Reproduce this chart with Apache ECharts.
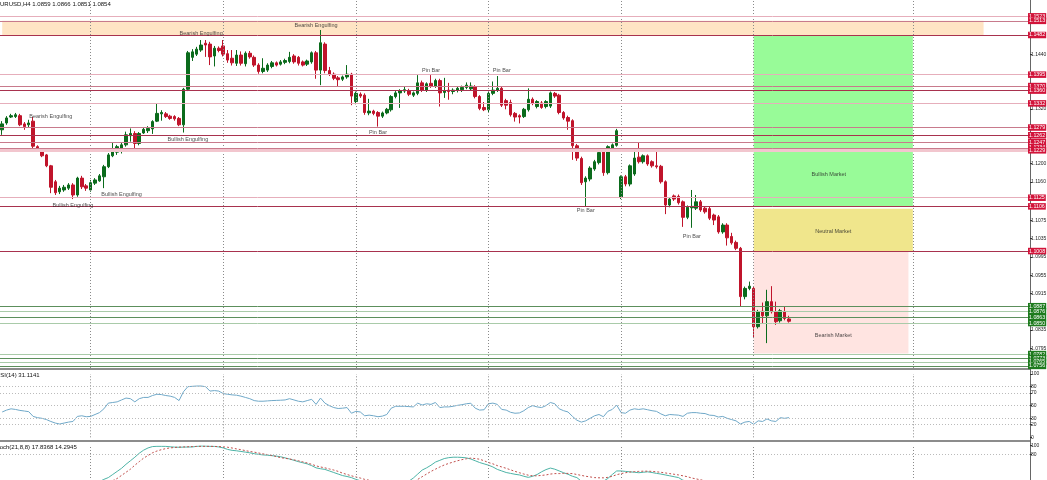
<!DOCTYPE html>
<html><head><meta charset="utf-8">
<script src="https://cdn.jsdelivr.net/npm/echarts@6/dist/echarts.min.js"></script>
<style>html,body{margin:0;padding:0;background:#fff;overflow:hidden}#c{width:1047px;height:480px}</style>
</head><body><div id="c"></div>
<script>
const symbolName = 'EURUSD,H4';
// [open, close, low, high]
const candles = [
[1.1274,1.1287,1.1263,1.1293],[1.1289,1.1300,1.1285,1.1304],[1.1302,1.1305,1.1300,1.1309],[1.1303,1.1307,1.1300,1.1311],
[1.1305,1.1285,1.1282,1.1309],[1.1287,1.1281,1.1274,1.1291],[1.1285,1.1289,1.1280,1.1296],[1.1293,1.1238,1.1234,1.1302],
[1.1237,1.1231,1.1228,1.1240],[1.1230,1.1217,1.1214,1.1234],[1.1219,1.1195,1.1192,1.1221],[1.1195,1.1148,1.1135,1.1197],
[1.1160,1.1136,1.1131,1.1164],[1.1138,1.1146,1.1133,1.1151],[1.1142,1.1148,1.1138,1.1153],[1.1146,1.1153,1.1142,1.1157],
[1.1153,1.1131,1.1122,1.1157],[1.1131,1.1168,1.1127,1.1171],[1.1168,1.1149,1.1144,1.1173],[1.1151,1.1146,1.1140,1.1155],
[1.1142,1.1158,1.1138,1.1164],[1.1157,1.1164,1.1153,1.1168],[1.1162,1.1173,1.1160,1.1177],[1.1171,1.1193,1.1146,1.1197],
[1.1193,1.1219,1.1190,1.1223],[1.1217,1.1231,1.1214,1.1245],[1.1225,1.1237,1.1219,1.1241],[1.1230,1.1241,1.1222,1.1245],
[1.1241,1.1263,1.1237,1.1270],[1.1261,1.1266,1.1248,1.1277],[1.1266,1.1244,1.1233,1.1271],[1.1244,1.1266,1.1240,1.1269],
[1.1267,1.1275,1.1265,1.1280],[1.1272,1.1277,1.1267,1.1282],[1.1276,1.1292,1.1265,1.1295],[1.1293,1.1310,1.1291,1.1331],
[1.1309,1.1312,1.1294,1.1317],[1.1309,1.1303,1.1300,1.1313],[1.1304,1.1299,1.1296,1.1307],[1.1303,1.1298,1.1294,1.1306],
[1.1299,1.1285,1.1282,1.1302],[1.1285,1.1363,1.1268,1.1366],[1.1363,1.1443,1.1359,1.1447],[1.1433,1.1445,1.1425,1.1451],
[1.1440,1.1451,1.1436,1.1456],[1.1449,1.1460,1.1445,1.1471],[1.1464,1.1460,1.1434,1.1471],[1.1462,1.1434,1.1416,1.1467],
[1.1436,1.1453,1.1413,1.1458],[1.1453,1.1448,1.1444,1.1457],[1.1458,1.1440,1.1435,1.1471],[1.1441,1.1427,1.1421,1.1449],
[1.1431,1.1421,1.1415,1.1449],[1.1420,1.1438,1.1414,1.1449],[1.1438,1.1420,1.1415,1.1446],[1.1419,1.1442,1.1413,1.1446],
[1.1442,1.1434,1.1430,1.1447],[1.1433,1.1416,1.1412,1.1437],[1.1416,1.1402,1.1397,1.1420],[1.1402,1.1409,1.1398,1.1431],
[1.1405,1.1416,1.1401,1.1420],[1.1413,1.1421,1.1409,1.1425],[1.1421,1.1416,1.1413,1.1424],[1.1418,1.1423,1.1415,1.1427],
[1.1422,1.1426,1.1418,1.1430],[1.1424,1.1433,1.1420,1.1445],[1.1436,1.1423,1.1419,1.1440],[1.1433,1.1420,1.1415,1.1436],
[1.1423,1.1416,1.1413,1.1426],[1.1418,1.1425,1.1414,1.1428],[1.1423,1.1443,1.1419,1.1446],[1.1443,1.1405,1.1386,1.1447],
[1.1405,1.1465,1.1372,1.1493],[1.1462,1.1404,1.1398,1.1466],[1.1404,1.1396,1.1392,1.1412],[1.1396,1.1387,1.1383,1.1400],
[1.1388,1.1384,1.1370,1.1392],[1.1385,1.1390,1.1381,1.1393],[1.1390,1.1396,1.1386,1.1416],[1.1396,1.1348,1.1328,1.1399],
[1.1336,1.1354,1.1330,1.1358],[1.1352,1.1348,1.1344,1.1356],[1.1350,1.1312,1.1307,1.1354],[1.1311,1.1315,1.1306,1.1342],
[1.1315,1.1310,1.1306,1.1318],[1.1312,1.1304,1.1281,1.1315],[1.1304,1.1311,1.1300,1.1314],[1.1311,1.1319,1.1308,1.1322],
[1.1318,1.1347,1.1314,1.1350],[1.1347,1.1355,1.1343,1.1359],[1.1355,1.1360,1.1322,1.1363],[1.1359,1.1362,1.1355,1.1368],
[1.1360,1.1352,1.1348,1.1364],[1.1350,1.1355,1.1346,1.1358],[1.1354,1.1377,1.1350,1.1394],[1.1377,1.1361,1.1357,1.1382],
[1.1361,1.1375,1.1357,1.1378],[1.1376,1.1370,1.1366,1.1394],[1.1370,1.1382,1.1366,1.1386],[1.1382,1.1355,1.1325,1.1386],
[1.1356,1.1359,1.1344,1.1388],[1.1361,1.1358,1.1340,1.1377],[1.1358,1.1361,1.1352,1.1365],[1.1361,1.1365,1.1356,1.1370],
[1.1362,1.1367,1.1357,1.1371],[1.1367,1.1372,1.1363,1.1378],[1.1364,1.1370,1.1360,1.1378],[1.1369,1.1347,1.1343,1.1372],
[1.1347,1.1321,1.1317,1.1350],[1.1323,1.1318,1.1315,1.1335],[1.1318,1.1354,1.1312,1.1357],[1.1354,1.1361,1.1350,1.1380],
[1.1361,1.1365,1.1357,1.1392],[1.1365,1.1328,1.1324,1.1368],[1.1338,1.1328,1.1319,1.1342],[1.1334,1.1307,1.1303,1.1340],
[1.1310,1.1302,1.1292,1.1313],[1.1305,1.1302,1.1288,1.1308],[1.1303,1.1319,1.1300,1.1322],[1.1318,1.1341,1.1314,1.1365],
[1.1341,1.1332,1.1328,1.1345],[1.1325,1.1336,1.1321,1.1339],[1.1333,1.1323,1.1320,1.1337],[1.1325,1.1336,1.1321,1.1339],
[1.1326,1.1355,1.1322,1.1358],[1.1354,1.1348,1.1344,1.1357],[1.1350,1.1312,1.1308,1.1353],[1.1312,1.1300,1.1296,1.1315],
[1.1301,1.1293,1.1274,1.1305],[1.1294,1.1239,1.1208,1.1297],[1.1239,1.1212,1.1206,1.1243],[1.1211,1.1158,1.1153,1.1215],
[1.1160,1.1168,1.1105,1.1172],[1.1166,1.1190,1.1161,1.1194],[1.1188,1.1204,1.1184,1.1208],[1.1202,1.1224,1.1198,1.1228],
[1.1226,1.1180,1.1173,1.1230],[1.1180,1.1237,1.1176,1.1240],[1.1234,1.1241,1.1230,1.1244],[1.1240,1.1272,1.1237,1.1276],
[1.1126,1.1171,1.1122,1.1174],[1.1171,1.1155,1.1150,1.1175],[1.1155,1.1195,1.1150,1.1198],[1.1177,1.1212,1.1173,1.1232],
[1.1214,1.1204,1.1200,1.1246],[1.1204,1.1217,1.1200,1.1220],[1.1217,1.1199,1.1195,1.1220],[1.1204,1.1195,1.1191,1.1207],
[1.1195,1.1193,1.1189,1.1232],[1.1194,1.1160,1.1156,1.1197],[1.1160,1.1109,1.1089,1.1163],[1.1109,1.1122,1.1104,1.1126],
[1.1129,1.1122,1.1118,1.1132],[1.1128,1.1114,1.1110,1.1132],[1.1116,1.1082,1.1061,1.1119],[1.1082,1.1104,1.1078,1.1108],
[1.1103,1.1106,1.1059,1.1142],[1.1102,1.1116,1.1098,1.1131],[1.1116,1.1098,1.1094,1.1120],[1.1102,1.1094,1.1090,1.1106],
[1.1101,1.1080,1.1076,1.1105],[1.1087,1.1076,1.1065,1.1090],[1.1083,1.1050,1.1046,1.1087],[1.1050,1.1065,1.1046,1.1069],
[1.1065,1.1037,1.1020,1.1069],[1.1040,1.1026,1.1022,1.1048],[1.1027,1.1014,1.1010,1.1031],[1.1014,1.0908,1.0886,1.1017],
[1.0908,1.0926,1.0902,1.0930],[1.0926,1.0931,1.0922,1.0941],[1.0926,1.0842,1.0817,1.0929],[1.0842,1.0875,1.0838,1.0879],
[1.0876,1.0866,1.0850,1.0895],[1.0866,1.0897,1.0806,1.0923],[1.0897,1.0875,1.0871,1.0931],[1.0875,1.0853,1.0846,1.0897],
[1.0855,1.0877,1.0851,1.0881],[1.0875,1.0860,1.0856,1.0886],[1.0859,1.0854,1.0851,1.0866]
];
const rsi = [40,43,45,44,42.5,41.5,40.5,33,31,30,28,25,22.5,21,22.5,24,25,33,34,32.5,
33,36,39,45,54,55,56,59,62,61,56,61,63,63,66,68,67.5,66,65,63,
58,72,80,80.5,81,81,80,73,73.8,73,69,68,67,66.5,65,63,61,58,57,57,
57.5,58,58.3,58.6,59,61,59,57,56,58,60,52,62,54,50,47,45.5,46,47,38,
41,40,34,35,34,32.5,33.5,36,46,49,49,49,48.5,48,54,51,53,52,55,47,
48,48,49,50.5,51.5,53,53.8,46,43,43.5,53,54,52,44,43,39.5,38,38.5,42,47,
50,48,47,50,55,53,45,42,40,33,27,24,26,30,34,36,32.5,41,44,51,
39,38,43,45,44,45,43.5,42,41,37,34,36,35.5,35,33,38,39,39,38,37.5,
35,34.5,32,33,30,28,26,21,24,25,20.5,26,25,29,26,25,31,30,31.1141];
const stochMain = [18,20,21,21,19,17,15,12,10,8,6,5,4,4,5,6,6,8,9,10,12,15,19,24,
28,35,42,49,58,66,74,83,90,95,98,98.6,98.6,98.5,97.5,96.8,96.5,96.8,97,97.2,98.5,99.3,99,98.6,98.4,97.2,
95,91.6,89.5,88.5,87,85.5,84,82,80.5,79.2,78.5,77.5,76.5,75,72.5,70,67,64,61.5,59,55,50,48,46.5,43,39.5,36,32.5,30.5,28,
24,21,17,15,13,11,10,10,12,14,16,18,20,27,36,45,50,56,63,67,71,73,74,74,73.5,72.5,70,66,62,59,
56,52,46.5,43,39.5,37.5,35.5,34,31,28.5,31,35,41,46,49.5,47,43,39,35.5,31,28,20,15,14,15,18,20,26,35,43,
43,42,41,40,39,40,41,39.5,37.5,36,34,32,30,28,22,20,19,18,16,14,12,10,7,6,5,4,3,2,3,4,
3,6,8,12,12,11,15,16,17.8368];
const stochSignal = [20,20,21,21,21,20,19,17,15,13,11,9,7,6,5,5,5,6,7,8,9,10,12,14,17,21,
26,33,40,47,56,64,72,78,84,88,91,93.5,95,96,96.8,97.2,97.6,98,98.4,98.6,98.6,98.6,98.4,98,
97.4,96.5,94.8,92.8,91,89,87,85.5,83.5,81.5,80,78,75.5,73,71.5,70,68,66,63.5,61,58,54.5,52,50,47.5,45,42,38,35,32,
29.5,27,24,22,20,18.5,17,16,15,14.5,14.5,15,16,18,24,30,36,42,47,52,56.5,60,63,66,68.5,70.5,72,71,69.5,66,
62,59,55,52,49,45.5,42,39,36,33.5,32,32,33,34,36,37,37,37.5,37.5,37,35,33,31,29.5,28,27.5,27.5,28.5,31,34.5,
37,39,40.5,41.5,42,42.5,42.5,42,41,40,38.5,37,35.5,34,32,30,27,25,23,21,19,17,15,13,11,9,7,6,5,5,
5,5,6,7,8,9,11,12.5,14.2945];
// horizontal price levels: [price, kind]
const resistanceLevels = [[1.1523,'light'],[1.1513,'mid'],[1.1482,'dark'],[1.1395,'light'],[1.1370,'mid'],[1.1360,'dark'],
  [1.1332,'light'],[1.1279,'mid'],[1.1262,'dark'],[1.1247,'mid'],[1.1234,'mid'],[1.1229,'band'],[1.1125,'light'],[1.1106,'dark'],[1.1008,'dark']];
const supportLevels = [[1.0887,'dark'],[1.0876,'light'],[1.0863,'dark'],[1.0850,'light'],[1.0782,'light'],[1.0773,'dark'],[1.0765,'light'],[1.0756,'dark']];
// zones: [name, fromBar, toBar, topPrice, bottomPrice]
const zones = [['band',0,222,1.1513,1.1482],['bullish',170,206,1.1480,1.1105],['neutral',170,206,1.1101,1.1008],['bearish',170,205,1.1006,1.0783]];
// text annotations: [text, bar, price]
const annotations = [['Bearish Engulfing',11,1.1304],['Bullish Engulfing',42,1.1252],['Bullish Engulfing',27,1.1133],['Bullish Engulfing',16,1.1107],
  ['Bearish Engulfing',45,1.1486],['Bearish Engulfing',71,1.1503],['Pin Bar',97,1.1405],['Pin Bar',85,1.1268],['Pin Bar',113,1.1404],
  ['Pin Bar',132,1.1097],['Pin Bar',156,1.1040],['Bullish Market',187,1.1175],['Neutral Market',188,1.1050],['Bearish Market',188,1.0822]];
const priceTicks = [1.1440,1.1320,1.1200,1.1160,1.1075,1.1035,1.0995,1.0955,1.0915,1.0835,1.0795];
const rsiTicks = [0,20,30,50,70,80,100];
const rsiLevels = [20,30,50,70,80];
const stochTicks = [80,100];
const stochLevels = [20,80];
const gridBars = [20,50,80,110,140,170,206];
const totalSlots = 233;
const priceMin = 1.07514, priceMax = 1.15588;

const slots = Array.from({length: totalSlots}, (_, i) => String(i));
const FONT = 'Liberation Sans';
const zoneColors = {band:'#FFE4C4', bullish:'#98FB98', neutral:'#F0E68C', bearish:'#FFE4E1'};
const resColors = {light:'#E6AEBB', mid:'#C87A8C', dark:'#A8324E', band:'#F2C6CE'};
const supColors = {light:'#A9CBA9', mid:'#7AA87A', dark:'#5C8F5C'};

const vLines = gridBars.map(b => ({xAxis: b, lineStyle:{color:'#8a8a8a', type:[1,2], width:1}, label:{show:false}}));
function levelItem(p, kind, colors, bg){
  return {yAxis: p, lineStyle:{color: colors[kind], width: kind==='band'?3:1, type:'solid'},
    label:{show:true, position:'end', distance:-2, formatter: () => p.toFixed(4), backgroundColor: bg, color:'#fff',
      fontSize:5.3, fontFamily: FONT, padding:[1,1,0,1], lineHeight:5.5}};
}
const levelLines = resistanceLevels.map(l => levelItem(l[0], l[1], resColors, '#D2143A'))
  .concat(supportLevels.map(l => levelItem(l[0], l[1], supColors, '#1E7B1E')));

const last = candles[candles.length-1];
const axisCommon = {axisLine:{show:false}, splitLine:{show:false}};
const gridCommon = {left:0, right:17, containLabel:false, outerBoundsMode:'none'};
const tickLabel = {fontSize:5, color:'#222', margin:1, fontFamily: FONT};

const option = {
  animation:false,
  textStyle:{fontFamily: FONT},
  grid:[
    Object.assign({top:0, height:368}, gridCommon),
    Object.assign({top:374, height:63.3}, gridCommon),
    Object.assign({top:445.7, height:44.3}, gridCommon)
  ],
  xAxis:[0,1,2].map(g => ({type:'category', gridIndex:g, data:slots, boundaryGap:true,
    axisLine:{show:false}, axisTick:{show:false}, axisLabel:{show:false}, splitLine:{show:false}})),
  yAxis:[
    Object.assign({type:'value', gridIndex:0, position:'right', min:priceMin, max:priceMax,
      axisTick:{show:true, length:2, customValues: priceTicks, lineStyle:{color:'#333'}},
      axisLabel:Object.assign({customValues: priceTicks, formatter: v => v.toFixed(4)}, tickLabel)}, axisCommon),
    Object.assign({type:'value', gridIndex:1, position:'right', min:0, max:100,
      axisTick:{show:true, length:2, customValues: rsiTicks, lineStyle:{color:'#333'}},
      axisLabel:Object.assign({customValues: rsiTicks}, tickLabel)}, axisCommon),
    Object.assign({type:'value', gridIndex:2, position:'right', min:0, max:100,
      axisTick:{show:true, length:2, customValues: stochTicks, lineStyle:{color:'#333'}},
      axisLabel:Object.assign({customValues: stochTicks}, tickLabel)}, axisCommon)
  ],
  series:[
    {type:'candlestick', xAxisIndex:0, yAxisIndex:0, data:candles, barWidth:3,
      itemStyle:{color:'#0B6B1C', color0:'#C0142B', borderColor:'#0B6B1C', borderColor0:'#C0142B', borderWidth:1},
      markArea:{silent:true, data: zones.map(z => [{xAxis:z[1], yAxis:z[3], itemStyle:{color: zoneColors[z[0]], opacity:1}}, {xAxis:z[2], yAxis:z[4]}])},
      markLine:{silent:true, symbol:'none', animation:false, precision:5, data: vLines.concat(levelLines)}
    },
    {type:'scatter', xAxisIndex:0, yAxisIndex:0, symbolSize:1, itemStyle:{color:'rgba(0,0,0,0)'}, silent:true, z:6,
      data: annotations.map(a => [a[1], a[2], a[0]]),
      label:{show:true, position:'inside', formatter: p => p.value[2], fontSize:5.5, color:'#222', fontFamily: FONT}},
    {type:'line', xAxisIndex:1, yAxisIndex:1, data:rsi, showSymbol:false, lineStyle:{color:'#6FA8C8', width:1}, silent:true,
      markLine:{silent:true, symbol:'none', animation:false, precision:3, data: vLines.concat(rsiLevels.map(v => ({yAxis:v, lineStyle:{color:'#bbbbbb', type:[1,2], width:1}, label:{show:false}})))}},
    {type:'line', xAxisIndex:2, yAxisIndex:2, data:stochMain, showSymbol:false, lineStyle:{color:'#4DB3A6', width:1}, silent:true, z:3,
      markLine:{silent:true, symbol:'none', animation:false, precision:3, data: vLines.concat(stochLevels.map(v => ({yAxis:v, lineStyle:{color:'#bbbbbb', type:[1,2], width:1}, label:{show:false}})))}},
    {type:'line', xAxisIndex:2, yAxisIndex:2, data:stochSignal, showSymbol:false, lineStyle:{color:'#C0504D', width:1, type:[2,2]}, silent:true}
  ],
  graphic:[
    {type:'rect', shape:{x:0, y:368, width:1030, height:2}, style:{fill:'#8c8c8c'}, silent:true},
    {type:'rect', shape:{x:0, y:440, width:1030, height:2}, style:{fill:'#8c8c8c'}, silent:true},
    {type:'line', shape:{x1:1030.5, y1:0, x2:1030.5, y2:480}, style:{stroke:'#666', lineWidth:1}, silent:true},
    {type:'text', x:-4, y:1, style:{text: symbolName + ' ' + last[0].toFixed(4) + ' ' + last[3].toFixed(4) + ' ' + last[2].toFixed(4) + ' ' + last[1].toFixed(4), font:'6px ' + FONT, fill:'#111'}, silent:true},
    {type:'text', x:-4, y:372, style:{text:'RSI(14) ' + rsi[rsi.length-1].toFixed(4), font:'6px ' + FONT, fill:'#111'}, silent:true},
    {type:'text', x:-6, y:444, style:{text:'Stoch(21,8,8) ' + stochMain[stochMain.length-1].toFixed(4) + ' ' + stochSignal[stochSignal.length-1].toFixed(4), font:'6px ' + FONT, fill:'#111'}, silent:true}
  ]
};
const chart = echarts.init(document.getElementById('c'), null, {renderer:'canvas'});
chart.setOption(option);
</script>
</body></html>
